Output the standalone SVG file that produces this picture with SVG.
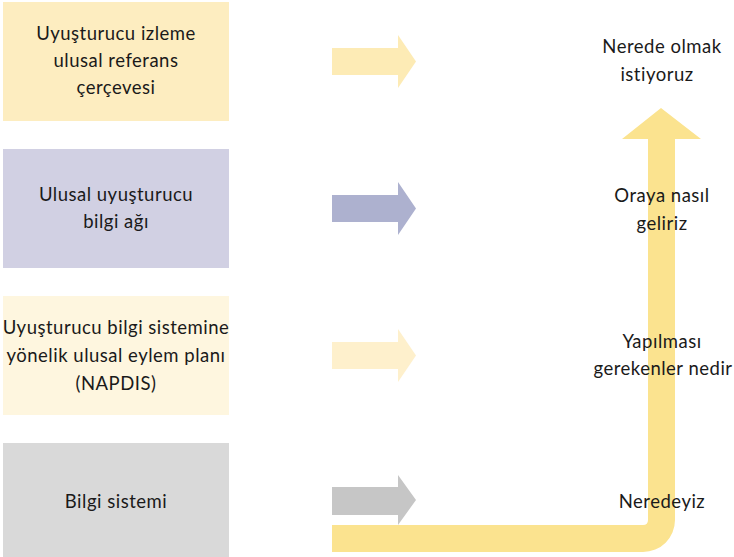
<svg xmlns="http://www.w3.org/2000/svg" width="734" height="557" viewBox="0 0 734 557">
<style>
text{font-family:"Lato","Liberation Sans",sans-serif;font-size:18.5px;letter-spacing:0.5px;fill:#1a1a1a;text-anchor:middle}
</style>
<rect width="734" height="557" fill="#ffffff"/>
<g id="box1"><rect x="3" y="2" width="226" height="119" fill="#FDEDC0"/>
<text x="116" y="40">Uyuşturucu izleme</text><text x="116" y="67">ulusal referans</text><text x="116" y="94">çerçevesi</text></g>
<g id="box2"><rect x="3" y="149" width="226" height="119" fill="#D1D0E3"/>
<text x="116" y="201">Ulusal uyuşturucu</text><text x="116" y="228">bilgi ağı</text></g>
<g id="box3"><rect x="3" y="296" width="226" height="119" fill="#FEF6DF"/>
<text x="116" y="334">Uyuşturucu bilgi sistemine</text><text x="116" y="362">yönelik ulusal eylem planı</text><text x="116" y="390">(NAPDIS)</text></g>
<g id="box4"><rect x="3" y="443" width="226" height="114" fill="#D9D9D9"/>
<text x="116" y="508">Bilgi sistemi</text></g>
<g id="connectors">
<polygon points="332,48 398,48 398,35 416,61.5 398,88 398,75 332,75" fill="#FDEBB5"/>
<polygon points="332,195 398,195 398,182 416,208.5 398,235 398,222 332,222" fill="#ADB1CF"/>
<polygon points="332,342 398,342 398,329 416,355.5 398,382 398,369 332,369" fill="#FEF0CC"/>
<polygon points="332,487 398,487 398,475 416,500 398,525 398,515 332,515" fill="#C6C6C6"/>
<path d="M332,525 L643,525 Q648,525 648,520 L648,139 L622,139 L661,108 L701,139 L675,139 L675,520 A32,32 0 0 1 643,552 L332,552 Z" fill="#FBE38F"/>
</g>
<g id="labels">
<text x="662" y="53">Nerede olmak</text><text x="657" y="81">istiyoruz</text>
<text x="662" y="202">Oraya nasıl</text><text x="662" y="230">geliriz</text>
<text x="662" y="348">Yapılması</text><text x="663" y="375">gerekenler nedir</text>
<text x="662" y="508">Neredeyiz</text>
</g>
</svg>
